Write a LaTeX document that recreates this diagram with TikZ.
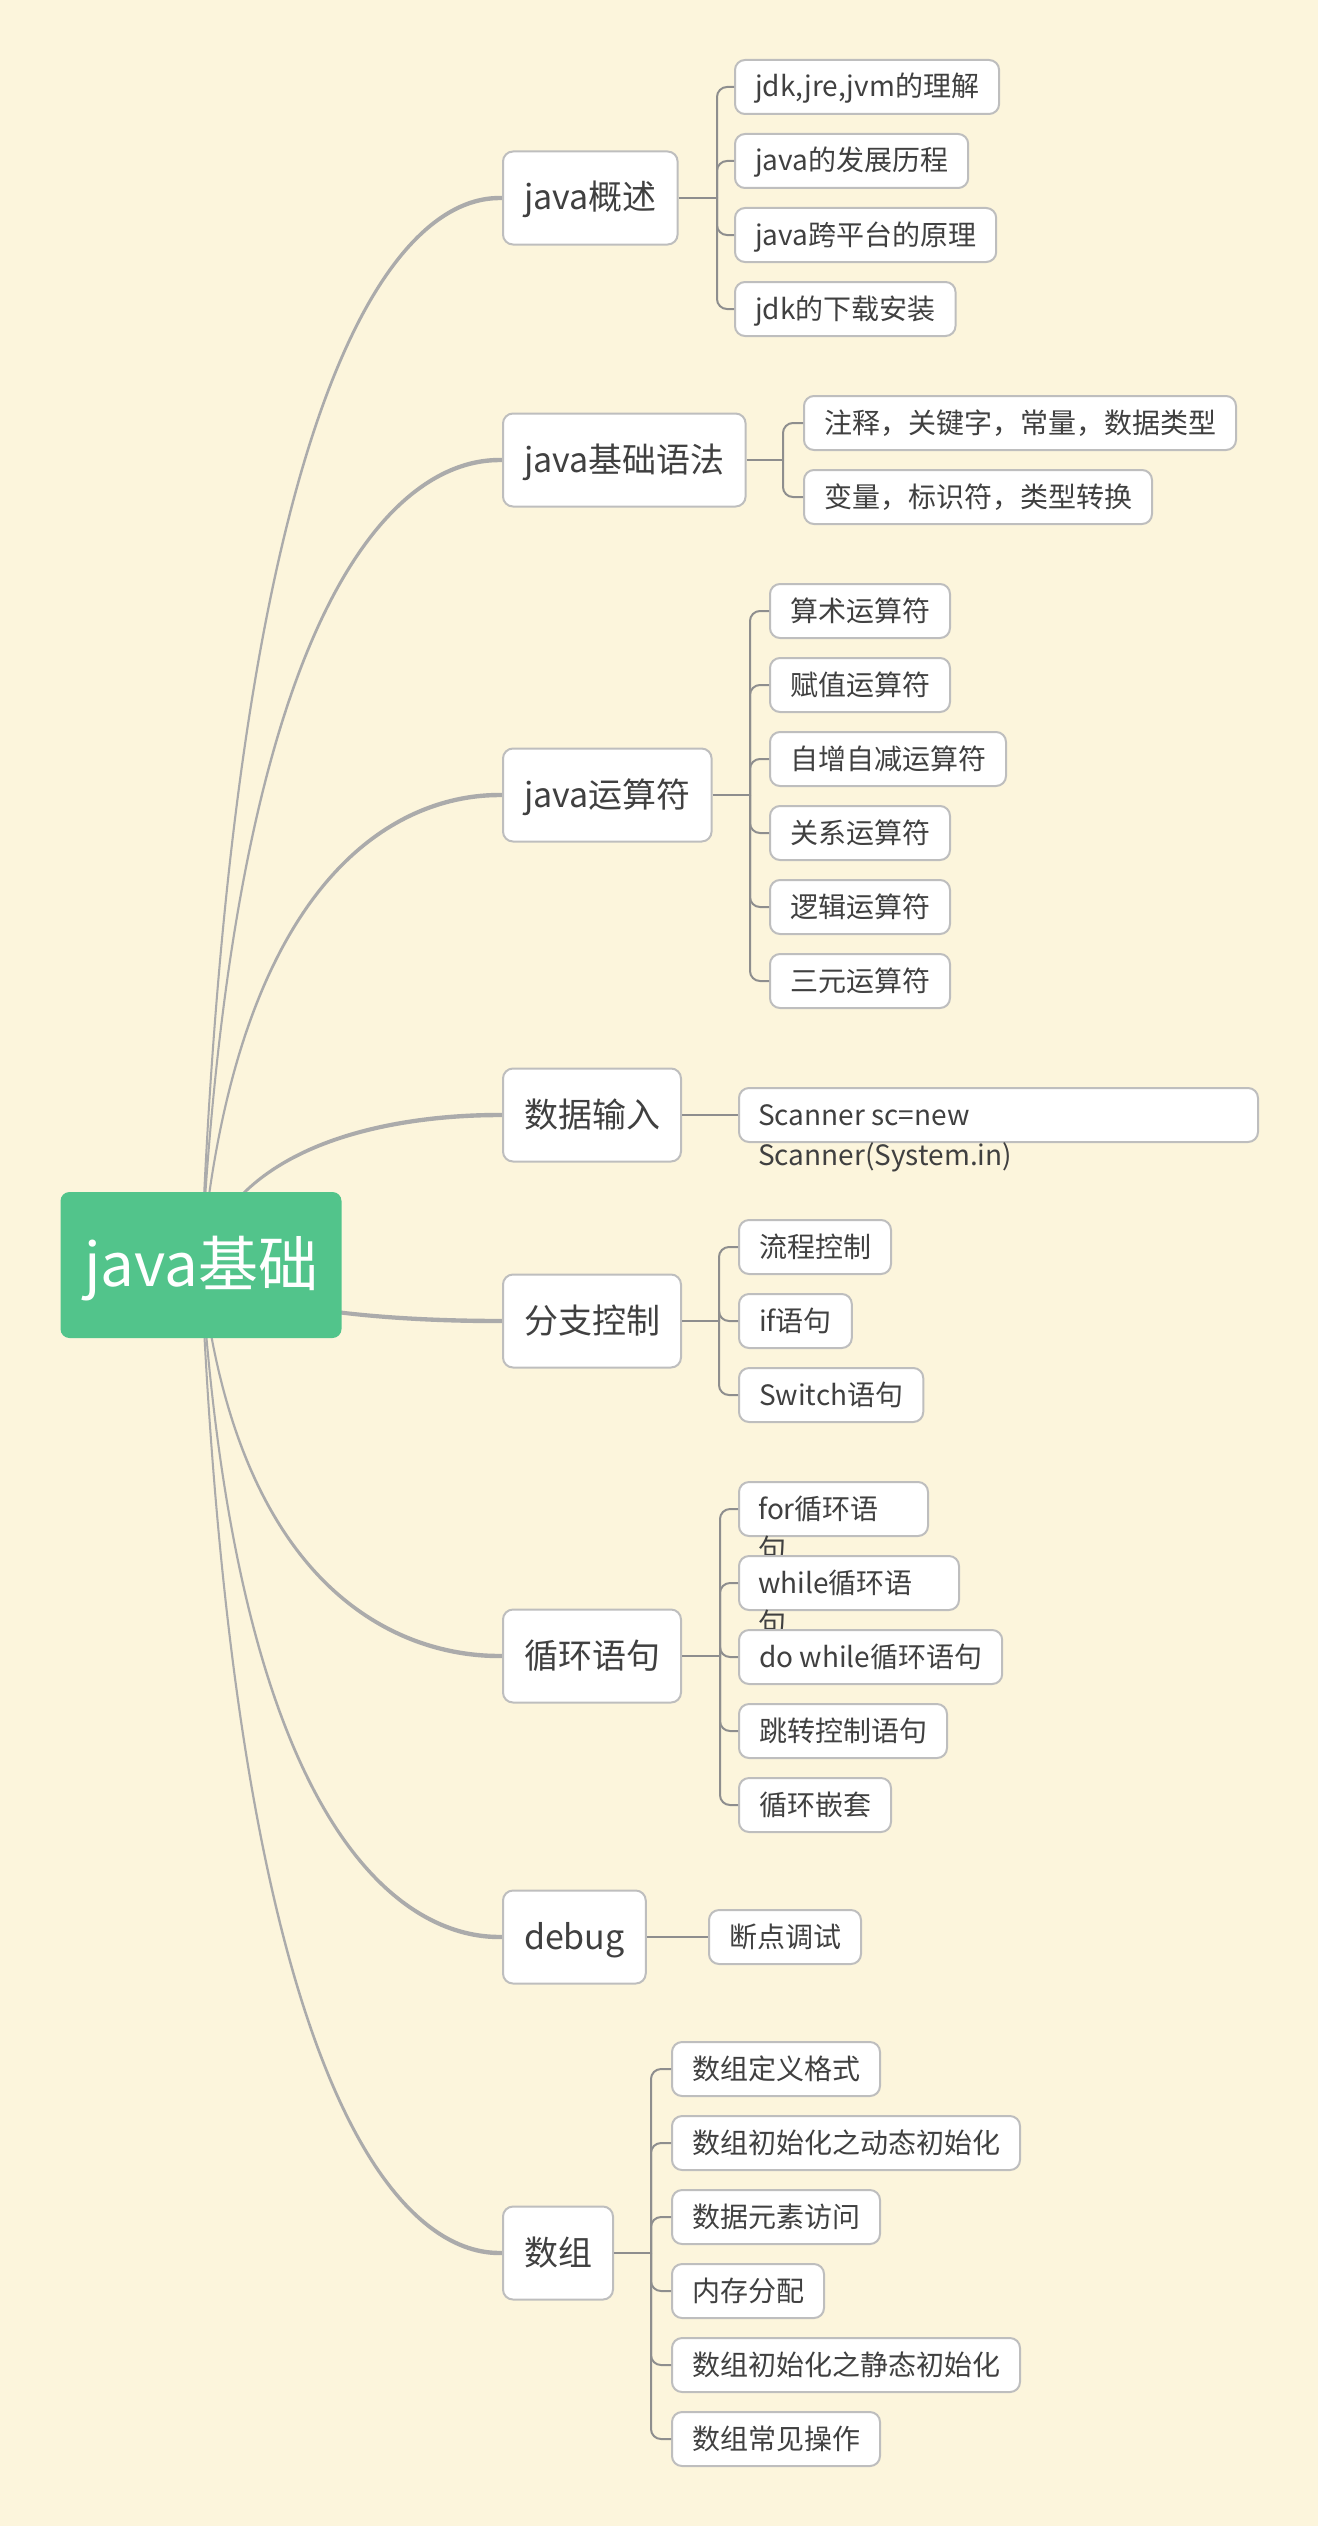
\documentclass[tikz,border=0pt]{standalone}
\usepackage{fontspec}
\setmainfont{Noto Sans CJK SC}
\usetikzlibrary{calc}
\usetikzlibrary{backgrounds}
\definecolor{mybg}{HTML}{FCF5DC}
\definecolor{myroot}{HTML}{52C48B}
\definecolor{mytext}{HTML}{404040}
\definecolor{mybox}{HTML}{BEBEBE}
\definecolor{mycurve}{HTML}{ABABAB}
\definecolor{mystem}{HTML}{8E8E8E}

\begin{document}
\begin{tikzpicture}[x=1pt,y=-1pt,
  root/.style={fill=myroot,rounded corners=9pt,text=white,
    font=\fontsize{60}{70}\selectfont,minimum width=281pt,minimum height=146pt,
    text height=51pt,text depth=9pt},
  topic/.style={draw=mybox,line width=2pt,fill=white,rounded corners=10pt,
    text=mytext,font=\fontsize{34}{40}\selectfont,minimum height=93pt,
    inner xsep=21pt,anchor=west,text height=29pt,text depth=5pt},
  leaf/.style={draw=mybox,line width=2pt,fill=white,rounded corners=10pt,
    text=mytext,font=\fontsize{28}{34}\selectfont,minimum height=54pt,
    inner xsep=20pt,anchor=west,text height=24pt,text depth=4pt},
  wrap/.style={text=mytext,font=\fontsize{28}{34}\selectfont,inner sep=0pt,
    anchor=west,text height=24pt,text depth=4pt},
  branch/.style={draw=mycurve,fill=mycurve,line width=2pt,line join=round},
  stem/.style={draw=mystem,line width=2pt},
  bracket/.style={draw=mystem,line width=2pt,rounded corners=10pt}]

\useasboundingbox (0,0) rectangle (1318,2526);
\begin{scope}[on background layer]
\fill[mybg] (0,0) rectangle (1318,2526);
\end{scope}

% centre
\node[root] (root) at (201,1265) {java基础};

% main topics
\node[topic] (gaishu)  at (502,198)  {java概述};
\node[topic] (yufa)    at (502,460)  {java基础语法};
\node[topic] (yunsuan) at (502,795)  {java运算符};
\node[topic] (shuru)   at (502,1115) {数据输入};
\node[topic] (fenzhi)  at (502,1321) {分支控制};
\node[topic] (xunhuan) at (502,1656) {循环语句};
\node[topic] (debug)   at (502,1937) {debug};
\node[topic] (shuzu)   at (502,2253) {数组};

% tapered branches, thin at the centre, wider at the topic
\begin{scope}[on background layer]
\foreach \t in {gaishu,yufa,yunsuan,shuru,fenzhi,xunhuan,debug,shuzu}
    \draw[branch] let \p1=(root.center), \p2=(\t.west),
                      \n1={\x1+0.14*(\x2-\x1)}, \n2={\x1+0.88*(\x2-\x1)} in
      (\p1) .. controls (\n1,\y2-1.2pt) and (\n2,\y2-1.2pt) .. (\x2,\y2-1.2pt)
      -- (\x2,\y2+1.2pt)
      .. controls (\n2,\y2+1.2pt) and (\n1,\y2+1.2pt) .. (\p1) -- cycle;
\end{scope}

% java概述
\coordinate (gaishu-b) at (717,198);
\draw[stem] (gaishu.east) -- (gaishu-b);
\foreach \i/\y/\txt in {1/87/{jdk,jre,jvm的理解},2/161/java的发展历程,
                        3/235/java跨平台的原理,4/309/jdk的下载安装}{
    \node[leaf] (gaishu-\i) at (734,\y) {\txt};
    \draw[bracket] (gaishu-b) |- (gaishu-\i.west);
}

% java基础语法
\coordinate (yufa-b) at (783,460);
\draw[stem] (yufa.east) -- (yufa-b);
\foreach \i/\y/\txt in {1/423/注释，关键字，常量，数据类型,2/497/变量，标识符，类型转换}{
    \node[leaf] (yufa-\i) at (803,\y) {\txt};
    \draw[bracket] (yufa-b) |- (yufa-\i.west);
}

% java运算符
\coordinate (yunsuan-b) at (750,795);
\draw[stem] (yunsuan.east) -- (yunsuan-b);
\foreach \i/\y/\txt in {1/611/算术运算符,2/685/赋值运算符,3/759/自增自减运算符,
                        4/833/关系运算符,5/907/逻辑运算符,6/981/三元运算符}{
    \node[leaf] (yunsuan-\i) at (769,\y) {\txt};
    \draw[bracket] (yunsuan-b) |- (yunsuan-\i.west);
}

% 数据输入
\node[leaf,minimum width=519pt] (shuru-1) at (738,1115) {};
\node[wrap] (shuru-1a) at (758,1115) {Scanner sc=new};
\node[wrap] (shuru-1b) at (758,1155) {Scanner(System.in)};
\draw[stem] (shuru.east) -- (shuru-1.west);

% 分支控制
\coordinate (fenzhi-b) at (719,1321);
\draw[stem] (fenzhi.east) -- (fenzhi-b);
\foreach \i/\y/\txt in {1/1247/流程控制,2/1321/if语句,3/1395/Switch语句}{
    \node[leaf] (fenzhi-\i) at (738,\y) {\txt};
    \draw[bracket] (fenzhi-b) |- (fenzhi-\i.west);
}

% 循环语句
\coordinate (xunhuan-b) at (720,1656);
\draw[stem] (xunhuan.east) -- (xunhuan-b);
\node[leaf,minimum width=189pt] (xunhuan-1) at (738,1509) {};
\node[wrap] (xunhuan-1a) at (758,1509) {for循环语};
\node[wrap] (xunhuan-1b) at (758,1549) {句};
\node[leaf,minimum width=220pt] (xunhuan-2) at (738,1583) {};
\node[wrap] (xunhuan-2a) at (758,1583) {while循环语};
\node[wrap] (xunhuan-2b) at (758,1623) {句};
\node[leaf] (xunhuan-3) at (738,1657) {do while循环语句};
\node[leaf] (xunhuan-4) at (738,1731) {跳转控制语句};
\node[leaf] (xunhuan-5) at (738,1805) {循环嵌套};
\foreach \i in {1,...,5}
    \draw[bracket] (xunhuan-b) |- (xunhuan-\i.west);

% debug
\node[leaf] (debug-1) at (708,1937) {断点调试};
\draw[stem] (debug.east) -- (debug-1.west);

% 数组
\coordinate (shuzu-b) at (651,2253);
\draw[stem] (shuzu.east) -- (shuzu-b);
\foreach \i/\y/\txt in {1/2069/数组定义格式,2/2143/数组初始化之动态初始化,
                        3/2217/数据元素访问,4/2291/内存分配,
                        5/2365/数组初始化之静态初始化,6/2439/数组常见操作}{
    \node[leaf] (shuzu-\i) at (671,\y) {\txt};
    \draw[bracket] (shuzu-b) |- (shuzu-\i.west);
}
\end{tikzpicture}
\end{document}
